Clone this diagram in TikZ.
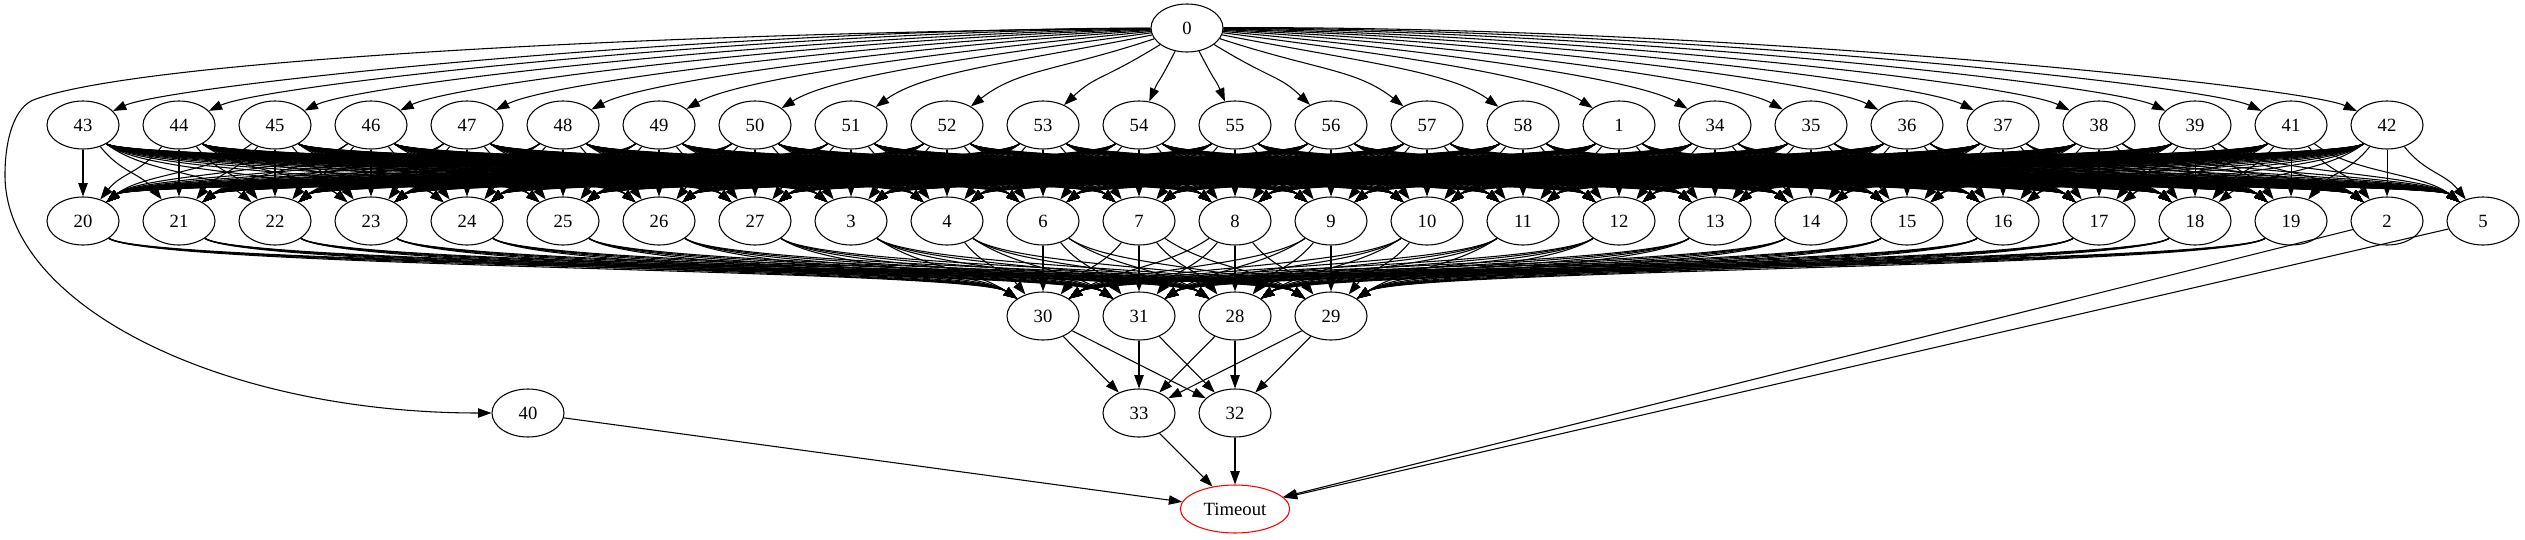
\documentclass[tikz,border=0pt]{standalone}
\usepackage{fontspec}
\setmainfont{Liberation Serif}
\usetikzlibrary{arrows.meta,shapes.geometric}

\begin{document}
\begin{tikzpicture}[x=0.75pt, y=0.75pt]
	\tikzset{>={Triangle[length=10pt,width=7pt]}}
	\tikzset{state/.style={draw,line width=0.8pt,ellipse,minimum width=54pt,minimum height=36pt,inner sep=0pt,font=\fontsize{14}{16}\selectfont}}
	\tikzset{edge/.style={->,line width=0.8pt}}
	\useasboundingbox (0,0) rectangle (2525,-539);
	\def\rowone{43,44,...,58,1,34,35,...,39,41,42}
	\def\rowtwo{20,21,...,27,3,4,6,7,...,19}
	\def\rowtwoall{20,21,...,27,3,4,6,7,...,19,2,5}

	% nodes, one rank after the other
	\node[state] (n0) at (1187,-28) {0};
	\foreach \s [count=\i from 0] in \rowone
		\node[state] (n\s) at ({83+96*\i},-125) {\s};
	\foreach \s [count=\i from 0] in \rowtwoall
		\node[state] (n\s) at ({83+96*\i},-221) {\s};
	\node[state] (n30) at (1043,-316) {30};
	\node[state] (n31) at (1139,-316) {31};
	\node[state] (n28) at (1235,-316) {28};
	\node[state] (n29) at (1331,-316) {29};
	\node[state] (n33) at (1139,-413) {33};
	\node[state] (n32) at (1235,-413) {32};
	\node[state] (n40) at (528,-413) {40};
	\node[state,red,text=black,minimum width=82pt] (timeout) at (1235,-509) {Timeout};

	% 0 to the first rank
	\foreach \t [count=\i from 0] in \rowone {
		\pgfmathsetmacro\dx{83+96*\i-1187}
		\pgfmathsetmacro\ang{atan2(-97,\dx)}
		\pgfmathsetmacro\sg{\dx<0 ? -1 : 1}
		\pgfmathsetmacro\aout{\ang+\sg*min(abs(\dx)/60,5)}
		\pgfmathsetmacro\ain{\ang+180-\sg*min(abs(\dx)/15,20)}
		\pgfmathsetmacro\len{veclen(\dx,97)}
		\pgfmathsetmacro\dout{0.3*\len}
		\pgfmathsetmacro\din{min(0.25*\len,60)*0.75}
		\draw[edge] (n0) to[out=\aout,in=\ain,out distance=\dout pt,in distance=\din pt] (n\t);
	}
	\draw[edge] (n0) .. controls (700,-32) and (150,-58) .. (36,-99) .. controls (14,-105.6) and (5,-140) .. (5,-175) .. controls (5,-306) and (223,-413) .. (n40);

	% first rank to second rank
	\foreach \s [count=\i from 0] in \rowone {
		\foreach \t [count=\j from 0] in \rowtwoall {
			\pgfmathsetmacro\dx{96*(\j-\i)}
			\pgfmathsetmacro\ca{max(min(0.4*\dx,60),-60)}
			\pgfmathsetmacro\cb{-\ca}
			\draw[edge] (n\s) .. controls +(\ca,-48) and +(\cb,48) .. (n\t);
		}
	}

	% second rank to 30, 31, 28, 29
	\foreach \s [count=\i from 0] in \rowtwo {
		\foreach \t/\xt in {30/1043,31/1139,28/1235,29/1331} {
			\pgfmathsetmacro\dx{\xt-83-96*\i}
			\pgfmathsetmacro\ca{max(min(0.4*\dx,70),-70)}
			\pgfmathsetmacro\cb{-\ca}
			\draw[edge] (n\s) .. controls +(\ca,-47) and +(\cb,47) .. (n\t);
		}
	}

	\foreach \s in {30,31,28,29}
		\foreach \t in {33,32}
			\draw[edge] (n\s) -- (n\t);
	\foreach \s in {33,32,40,2,5}
		\draw[edge] (n\s) -- (timeout);
\end{tikzpicture}
\end{document}
